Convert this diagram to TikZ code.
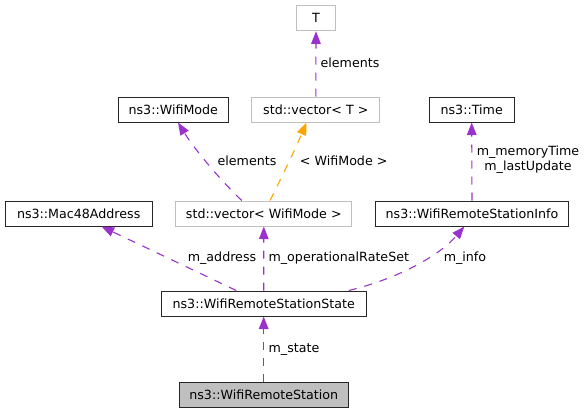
\documentclass[tikz,border=0pt]{standalone}
\usepackage{fontspec}
\setmainfont{DejaVu Sans}
\usetikzlibrary{arrows.meta,calc}
\definecolor{usecol}{RGB}{154,50,205}
\definecolor{tplcol}{RGB}{255,165,0}
\definecolor{greybox}{RGB}{191,191,191}
\tikzset{
  every node/.style={font=\fontsize{12.65}{14.8}\selectfont, inner sep=0pt},
  cls/.style={draw=black!85, line width=1pt, minimum height=25pt, fill=white},
  tcls/.style={draw=greybox, line width=1pt, minimum height=25pt, fill=white},
  usearrow/.style={draw=usecol, line width=1.1pt, dash pattern=on 8pt off 8pt,
    -{Triangle[length=12.5pt,width=9.5pt]}},
  tplarrow/.style={draw=tplcol, line width=1.1pt, dash pattern=on 8pt off 8pt,
    -{Triangle[length=12.5pt,width=9.5pt]}},
  lbl/.style={align=center}
}
\begin{document}
\begin{tikzpicture}[x=1pt,y=-1pt]
\useasboundingbox[fill=white] (0,0) rectangle (587,413);
% nodes
\node[tcls, minimum width=38.6pt] (T) at (316,18.3) {T};
\node[tcls, minimum width=127.7pt] (vecT) at (315.8,109.5) {std::vector< T >};
\node[cls, minimum width=110pt] (mode) at (173.3,109.5) {ns3::WifiMode};
\node[cls, minimum width=84.7pt] (time) at (471.7,109.5) {ns3::Time};
\node[cls, minimum width=147.3pt] (mac) at (78.7,213.5) {ns3::Mac48Address};
\node[tcls, minimum width=176.3pt] (vecWM) at (263.8,213.5) {std::vector< WifiMode >};
\node[cls, minimum width=192.6pt] (info) at (472,213.5) {ns3::WifiRemoteStationInfo};
\node[cls, minimum width=205.3pt] (state) at (263.7,303.5) {ns3::WifiRemoteStationState};
\node[cls, fill=greybox, minimum width=169.3pt] (station) at (263.7,394.5) {ns3::WifiRemoteStation};
% connectors
\draw[usearrow] (station.north) -- (state.south);
\draw[usearrow] (state.north) -- (vecWM.south);
\draw[usearrow] ($(state.north west)+(75.7,0)$) -- ($(mac.south west)+(97,0)$);
\draw[usearrow] ($(state.north east)+(-18,0)$) .. controls (400,278) and (440,255) .. ($(info.south)+(-7.7,0)$);
\draw[usearrow] (info.north) -- (time.south);
\draw[usearrow] ($(vecWM.north)+(-22,0)$) .. controls (222,182) and (195,150) .. ($(mode.south)+(4.7,0)$);
\draw[tplarrow] ($(vecWM.north)+(6.2,0)$) .. controls (283,175) and (297,145) .. ($(vecT.south)+(-9.3,0)$);
\draw[usearrow] (vecT.north) -- (T.south);
% labels
\node[lbl] (lstate) at (294,349.3) {m\_state};
\node[lbl] (laddr) at (222,257.7) {m\_address};
\node[lbl] (lrate) at (338.8,257.7) {m\_operationalRateSet};
\node[lbl] (linfo) at (465,257.7) {m\_info};
\node[lbl] (ltime) at (528,160) {m\_memoryTime\\m\_lastUpdate};
\node[lbl] (lelem) at (247,160.5) {elements};
\node[lbl] (ltpl) at (343.7,160.5) {< WifiMode >};
\node[lbl] (lelemT) at (350,62.3) {elements};
\end{tikzpicture}
\end{document}
